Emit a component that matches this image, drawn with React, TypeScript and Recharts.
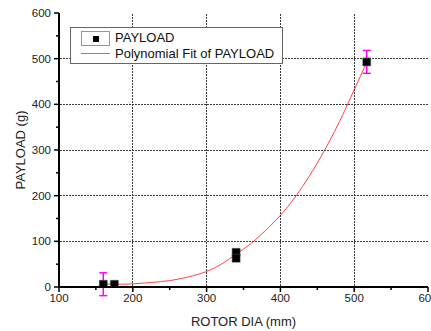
import { ComposedChart, Scatter, Line, XAxis, YAxis, ErrorBar, Legend, Label } from 'recharts';

// measured points
const rotorDia = [160, 175, 340, 340, 517];
const payload = [6, 6, 76, 63, 493];
const payloadErr = [25, null, null, null, 25];

// polynomial fit curve
const fitDia = [160, 180, 200, 225, 250, 275, 300, 320, 340, 360, 380, 400, 420, 440, 460, 480, 500, 517];
const fitPayload = [7, 6, 7, 10, 14, 22, 34, 50, 72, 95, 124, 157, 197, 245, 300, 362, 432, 492];

const xTicks = [100, 150, 200, 250, 300, 350, 400, 450, 500, 550, 600];
const yTicks = [0, 50, 100, 150, 200, 250, 300, 350, 400, 450, 500, 550, 600];
const xGrid = [200, 300, 400, 500];
const yGrid = [100, 200, 300, 400, 500];

const seriesName = 'PAYLOAD';
const fitName = 'Polynomial Fit of PAYLOAD';

const points = rotorDia.map((x, i) => ({ x, y: payload[i] }));
const errPoints = rotorDia
  .map((x, i) => ({ x, y: payload[i], err: payloadErr[i] }))
  .filter((p) => p.err != null);
const fit = fitDia.map((x, i) => ({ x, y: fitPayload[i] }));

const FONT = '"Liberation Sans", Arial, sans-serif';
const GRID = '#3a3a3a';
const CHART_W = 450;
const CHART_H = 331;
const MARGIN = { top: 13, right: 22, bottom: 0, left: 0 };
const Y_AXIS_W = 59;
const X_AXIS_H = 44;
const PLOT_W = CHART_W - MARGIN.left - MARGIN.right - Y_AXIS_W;
const PLOT_H = CHART_H - MARGIN.top - MARGIN.bottom - X_AXIS_H;

// dashed strokes don't show up in the renderer, so dots are small rects
const dots = (len: number) => Array.from({ length: Math.floor(len / 3) }, (_, i) => i * 3);

const BottomTick = (props: any) => {
  const { x, y, payload: p } = props;
  const major = p.value % 100 === 0;
  const gx = Math.round(x - 0.5);
  return (
    <g>
      {xGrid.includes(Number(p.value)) &&
        dots(PLOT_H).map((d) => <rect key={d} x={gx} y={y - PLOT_H + d + 1} width={1} height={2} fill={GRID} />)}
      <line x1={x} y1={y} x2={x} y2={y + (major ? 5 : 3)} stroke="#000" strokeWidth={1.5} />
      {major && (
        <text x={x} y={y + 15} textAnchor="middle" fontSize={11.5} fill="#222" fontFamily={FONT}>
          {p.value}
        </text>
      )}
    </g>
  );
};

const LeftTick = (props: any) => {
  const { x, y, payload: p } = props;
  const major = p.value % 100 === 0;
  const gy = Math.round(y - 0.5);
  return (
    <g>
      {yGrid.includes(Number(p.value)) &&
        dots(PLOT_W).map((d) => <rect key={d} x={x + d + 1} y={gy} width={2} height={1} fill={GRID} />)}
      <line x1={x - (major ? 5 : 3)} y1={y} x2={x} y2={y} stroke="#000" strokeWidth={1.5} />
      {major && (
        <text x={x - 8} y={y + 4} textAnchor="end" fontSize={11.5} fill="#222" fontFamily={FONT}>
          {p.value}
        </text>
      )}
    </g>
  );
};

const TopTick = (props: any) => {
  const { x, y, payload: p } = props;
  const major = p.value % 100 === 0;
  return <line x1={x} y1={y} x2={x} y2={y + (major ? 4 : 3)} stroke="#000" strokeWidth={1.5} />;
};

const RightTick = (props: any) => {
  const { x, y, payload: p } = props;
  const major = p.value % 100 === 0;
  return <line x1={x - (major ? 4 : 3)} y1={y} x2={x} y2={y} stroke="#000" strokeWidth={1.5} />;
};

const LegendBox = () => (
  <div
    style={{
      position: 'relative',
      width: 211,
      height: 35,
      border: '1px solid #666',
      background: '#fff',
      fontFamily: FONT,
      fontSize: 13,
      color: '#111',
    }}
  >
    <div style={{ position: 'absolute', left: 10, top: 3, width: 27, height: 13, border: '1px solid #f66' }}>
      <div style={{ position: 'absolute', left: 11, top: 4, width: 6, height: 6, background: '#000' }} />
    </div>
    <div style={{ position: 'absolute', left: 44, top: 2, lineHeight: '15px' }}>{seriesName}</div>
    <div style={{ position: 'absolute', left: 10, top: 25, width: 29, height: 1, background: '#f55' }} />
    <div style={{ position: 'absolute', left: 44, top: 18, lineHeight: '15px', whiteSpace: 'nowrap' }}>{fitName}</div>
  </div>
);

const YTitle = (props: any) => {
  const { viewBox } = props;
  const cy = viewBox.y + viewBox.height / 2;
  return (
    <text
      x={20}
      y={cy}
      transform={`rotate(-90, 20, ${cy})`}
      textAnchor="middle"
      dominantBaseline="central"
      fontSize={13}
      fill="#222"
      fontFamily={FONT}
    >
      PAYLOAD (g)
    </text>
  );
};

export default function App() {
  return (
    <div style={{ position: 'absolute', left: 0, top: 0, width: 431, height: 331, overflow: 'hidden', background: '#fff' }}>
      <ComposedChart width={CHART_W} height={CHART_H} margin={MARGIN}>
        <XAxis
          dataKey="x"
          type="number"
          domain={[100, 600]}
          allowDataOverflow
          ticks={xTicks}
          interval={0}
          height={X_AXIS_H}
          tickSize={0}
          tickMargin={0}
          tickLine={false}
          tick={BottomTick}
          axisLine={{ stroke: '#000', strokeWidth: 2 }}
        >
          <Label
            value="ROTOR DIA (mm)"
            position="insideBottom"
            offset={5}
            fontSize={13}
            fill="#222"
            fontFamily={FONT}
          />
        </XAxis>
        <XAxis
          xAxisId="top"
          orientation="top"
          dataKey="x"
          type="number"
          domain={[100, 600]}
          allowDataOverflow
          ticks={xTicks}
          interval={0}
          height={0}
          tickSize={0}
          tickMargin={0}
          tickLine={false}
          tick={TopTick}
          axisLine={{ stroke: '#000', strokeWidth: 2 }}
        />
        <YAxis
          dataKey="y"
          type="number"
          domain={[0, 600]}
          allowDataOverflow
          ticks={yTicks}
          interval={0}
          width={Y_AXIS_W}
          tickSize={0}
          tickMargin={0}
          tickLine={false}
          tick={LeftTick}
          axisLine={{ stroke: '#000', strokeWidth: 2 }}
        >
          <Label content={YTitle} />
        </YAxis>
        <YAxis
          yAxisId="right"
          orientation="right"
          dataKey="y"
          type="number"
          domain={[0, 600]}
          allowDataOverflow
          ticks={yTicks}
          interval={0}
          width={0}
          tickSize={0}
          tickMargin={0}
          tickLine={false}
          tick={RightTick}
          axisLine={{ stroke: '#000', strokeWidth: 1.5 }}
        />
        <Line
          data={fit}
          dataKey="y"
          type="monotone"
          stroke="#ff4444"
          strokeWidth={1}
          dot={false}
          activeDot={false}
          isAnimationActive={false}
          legendType="none"
        />
        <Scatter
          data={errPoints}
          dataKey="y"
          shape={() => <g />}
          isAnimationActive={false}
          legendType="none"
        >
          <ErrorBar dataKey="err" direction="y" width={4} stroke="#ff00ff" strokeWidth={1.5} isAnimationActive={false} />
        </Scatter>
        <Scatter
          name={seriesName}
          data={points}
          dataKey="y"
          shape="square"
          fill="#000"
          stroke="#555"
          strokeWidth={0.5}
          isAnimationActive={false}
        />
        <Legend
          layout="horizontal"
          verticalAlign="middle"
          align="center"
          content={LegendBox}
          wrapperStyle={{ left: 70, top: 27, width: 213, height: 37 }}
        />
      </ComposedChart>
    </div>
  );
}
